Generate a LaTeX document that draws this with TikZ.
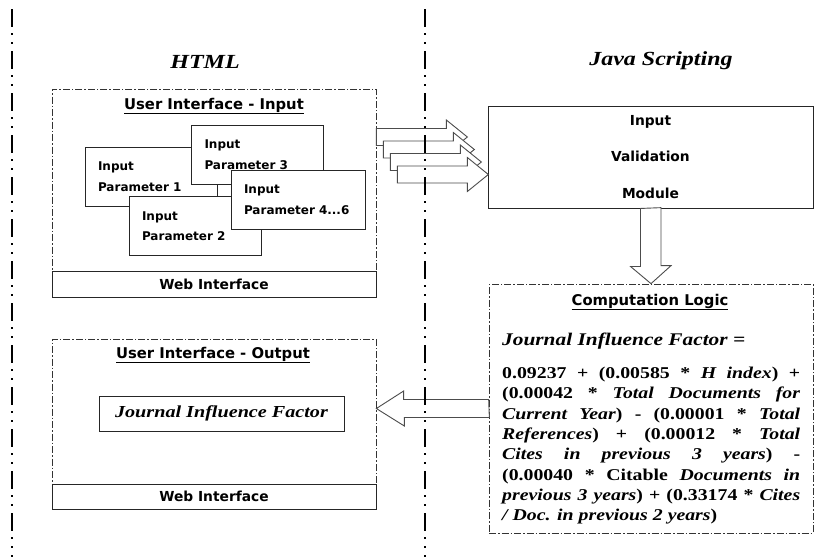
\documentclass[tikz,border=0pt]{standalone}
\usepackage{fontspec}
\usetikzlibrary{calc}
\newfontfamily\wideserif[FakeStretch=1.2]{Liberation Serif}
\newfontfamily\boxsans{DejaVu Sans}

\tikzset{
  lane/.style={line width=2.6pt, dash pattern=on 18pt off 6pt on 2pt off 7pt on 2pt off 7pt},
  dashbox/.style={draw=black!80, line width=0.7pt, dash pattern=on 7pt off 2pt on 1.5pt off 2pt},
  solidbox/.style={draw=black!85, fill=white, line width=0.9pt},
  boxtitle/.style={inner sep=0pt, font=\boxsans\bfseries\fontsize{14.8}{17}\selectfont},
  boxtext/.style={font=\boxsans\bfseries\fontsize{13.8}{16}\selectfont},
  parambox/.style={solidbox, minimum height=59pt, text width=106pt, inner xsep=13pt,
    align=left, font=\boxsans\bfseries\fontsize{12}{20.5}\selectfont},
  sidetitle/.style={font=\wideserif\bfseries\itshape\fontsize{20}{24}\selectfont},
  formulatext/.style={font=\wideserif\bfseries\fontsize{16.5}{20.3}\selectfont},
  hollow/.style={draw=black!70, fill=white, line width=0.9pt, line join=miter}
}

\begin{document}
\begin{tikzpicture}[x=1pt,y=-1pt]
  \fill[white] (0,0) rectangle (831,557);
  \useasboundingbox (0,0) rectangle (831,557);

  % column titles
  \node[sidetitle] (html) at (205,62) {HTML};
  \node[sidetitle] (java) at (661,61) {Java Scripting};

  % user interface - input
  \node[dashbox, minimum width=324pt, minimum height=182pt] (uiIn) at (214,180) {};
  \node[boxtitle] (uiInTitle) at (214,106) {\underline{User Interface - Input}};
  \node[solidbox, boxtext, minimum width=324pt, minimum height=26pt] (webIn) at (214,284) {Web Interface};

  \node[parambox] (par1) at (151,176.5) {Input\\Parameter 1};
  \node[parambox] (par3) at (257.5,154.5) {Input\\Parameter 3};
  \node[parambox] (par2) at (195,226) {Input\\Parameter 2};
  \node[parambox, text width=108pt] (par4) at (298,199.5) {Input\\Parameter 4...6};

  % input validation
  \node[solidbox, minimum width=325pt, minimum height=102pt, align=center,
    font=\boxsans\bfseries\fontsize{13.8}{36.5}\selectfont] (valid) at (650.5,157) {Input\\Validation\\Module};

  \foreach \i in {0,...,3}
    \draw[hollow] ($(uiIn.east)+(7*\i,-51.5+12.5*\i)$) -- ++(70,0) -- ++(0,-8.5)
      -- ++(21,17) -- ++(-21,17) -- ++(0,-8.5) -- ++(-70,0) -- cycle;

  % computation logic
  \node[dashbox, minimum width=324pt, minimum height=249pt] (comp) at (651,408.5) {};
  \node[boxtitle] (compTitle) at (650,302) {\underline{Computation Logic}};
  \node[anchor=base west, inner sep=0pt, font=\wideserif\bfseries\itshape\fontsize{17.8}{20}\selectfont]
    (jifLabel) at (502,345) {Journal Influence Factor =};
  \node[formulatext, anchor=north west, inner sep=0pt, text width=298pt, align=justify] (formula) at (502,367)
    {\tolerance=10000\hyphenpenalty=10000
     0.09237 + (0.00585 * \textit{H index}) +\linebreak
     (0.00042 * \textit{Total Documents for}\linebreak
     \textit{Current Year}) - (0.00001 * \textit{Total}\linebreak
     \textit{References}) + (0.00012 * \textit{Total}\linebreak
     \textit{Cites in previous 3 years}) -\linebreak
     (0.00040 * Citable \textit{Documents in}\linebreak
     \textit{previous 3 years}) + (0.33174 * \textit{Cites}\linebreak
     \textit{/ Doc. in previous 2 years})};

  \draw[hollow] ($(valid.south)+(-10,0)$) -- ++(0,58) -- ++(-10,0) -- (comp.north)
    -- ++(20,-18) -- ++(-10,0) -- ++(0,-58) -- cycle;

  % user interface - output
  \node[dashbox, minimum width=324pt, minimum height=145pt] (uiOut) at (214,411.5) {};
  \node[boxtitle] (uiOutTitle) at (213,355) {\underline{User Interface - Output}};
  \node[solidbox, boxtext, minimum width=324pt, minimum height=25pt] (webOut) at (214,496.5) {Web Interface};
  \node[solidbox, minimum width=245pt, minimum height=35pt,
    font=\wideserif\bfseries\itshape\fontsize{16.8}{20}\selectfont] (jifBox) at (221.5,413.5) {Journal Influence Factor};

  \draw[hollow] ($(comp.west)+(0,-9)$) -- ++(-85,0) -- ++(0,-8.5) -- (uiOut.east |- comp.west)
    -- ++(28,17.5) -- ++(0,-8.5) -- ++(85,0) -- cycle;

  % swim lanes
  \draw[lane] (12,9) -- (12,557);
  \draw[lane] (425,9) -- (425,557);
\end{tikzpicture}
\end{document}
